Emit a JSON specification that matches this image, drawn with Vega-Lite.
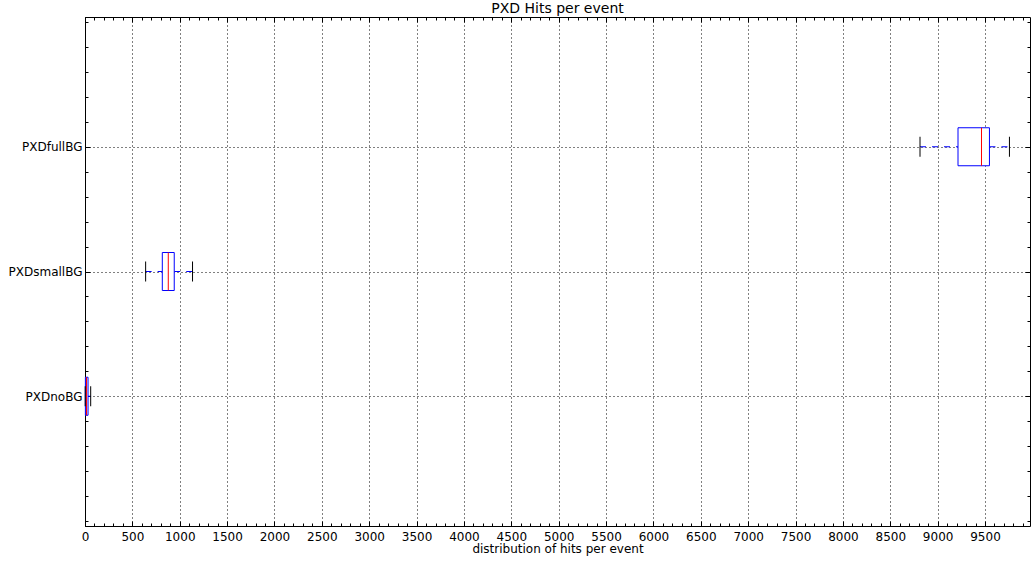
{
  "$schema": "https://vega.github.io/schema/vega-lite/v6.json",
  "width": 945,
  "height": 509,
  "autosize": {"type": "none"},
  "padding": {"left": 85, "top": 17, "right": 1, "bottom": 40},
  "background": "white",
  "title": {"text": "PXD Hits per event", "font": "DejaVu Sans", "fontSize": 14, "fontWeight": "normal", "color": "black", "offset": 1, "frame": "group", "anchor": "middle"},
  "data": {
    "values": [
      {"name": "PXDnoBG", "pos": 1, "low": 2, "q1": 4, "median": 16, "q3": 32, "high": 60},
      {"name": "PXDsmallBG", "pos": 2, "low": 640, "q1": 816, "median": 879, "q3": 942, "high": 1135},
      {"name": "PXDfullBG", "pos": 3, "low": 8814, "q1": 9215, "median": 9463, "q3": 9547, "high": 9758}
    ]
  },
  "resolve": {"axis": {"x": "independent", "y": "independent"}},
  "layer": [
    {
      "mark": {"type": "rule", "color": "#0000ff", "strokeWidth": 1, "strokeDash": [6, 6]},
      "encoding": {
        "x": {"field": "low", "type": "quantitative", "scale": {"domain": [0, 9975], "nice": false, "zero": false},
          "axis": {"orient": "bottom", "format": "d", "values": [0,500,1000,1500,2000,2500,3000,3500,4000,4500,5000,5500,6000,6500,7000,7500,8000,8500,9000,9500], "tickSize": -5, "labelPadding": 10, "grid": true, "title": "distribution of hits per event", "titlePadding": 1}},
        "x2": {"field": "q1"},
        "y": {"field": "pos", "type": "quantitative", "scale": {"domain": [0, 4], "nice": false, "zero": false},
          "axis": {"orient": "left", "values": [1, 2, 3], "labelExpr": "datum.value == 1 ? 'PXDnoBG' : datum.value == 2 ? 'PXDsmallBG' : 'PXDfullBG'", "tickSize": -5, "labelPadding": 8, "grid": true, "title": null}}
      }
    },
    {
      "mark": {"type": "rule", "color": "#0000ff", "strokeWidth": 1, "strokeDash": [6, 6]},
      "encoding": {
        "x": {"field": "q3", "type": "quantitative", "axis": {"orient": "bottom", "tickCount": 100, "labels": false, "tickSize": -3, "title": null}},
        "x2": {"field": "high"},
        "y": {"field": "pos", "type": "quantitative", "axis": {"orient": "left", "tickCount": 20, "labels": false, "tickSize": -3, "title": null}}
      }
    },
    {
      "mark": {"type": "bar", "orient": "horizontal", "fill": "white", "stroke": "#0000ff", "strokeWidth": 1, "size": 38},
      "encoding": {
        "x": {"field": "q1", "type": "quantitative", "axis": {"orient": "top", "values": [0,500,1000,1500,2000,2500,3000,3500,4000,4500,5000,5500,6000,6500,7000,7500,8000,8500,9000,9500], "labels": false, "tickSize": -5, "title": null}},
        "x2": {"field": "q3"},
        "y": {"field": "pos", "type": "quantitative", "axis": {"orient": "right", "values": [1, 2, 3], "labels": false, "tickSize": -5, "title": null}}
      }
    },
    {
      "mark": {"type": "tick", "orient": "vertical", "color": "#ff0000", "thickness": 1, "size": 38, "opacity": 1},
      "encoding": {
        "x": {"field": "median", "type": "quantitative", "axis": {"orient": "top", "tickCount": 100, "labels": false, "tickSize": -3, "title": null}},
        "y": {"field": "pos", "type": "quantitative", "axis": {"orient": "right", "tickCount": 20, "labels": false, "tickSize": -3, "title": null}}
      }
    },
    {
      "mark": {"type": "tick", "orient": "vertical", "color": "black", "thickness": 1, "size": 20, "opacity": 1},
      "encoding": {
        "x": {"field": "low", "type": "quantitative", "axis": null},
        "y": {"field": "pos", "type": "quantitative", "axis": null}
      }
    },
    {
      "mark": {"type": "tick", "orient": "vertical", "color": "black", "thickness": 1, "size": 20, "opacity": 1},
      "encoding": {
        "x": {"field": "high", "type": "quantitative", "axis": null},
        "y": {"field": "pos", "type": "quantitative", "axis": null}
      }
    }
  ],
  "config": {
    "view": {"stroke": "black", "strokeWidth": 1},
    "axis": {
      "domain": false, "grid": false, "tickColor": "black", "tickWidth": 1,
      "labelColor": "black", "labelFont": "DejaVu Sans", "labelFontSize": 12,
      "titleFont": "DejaVu Sans", "titleFontSize": 12, "titleFontWeight": "normal", "titleColor": "black",
      "gridColor": "black", "gridDash": [1, 3], "gridOpacity": 1, "gridWidth": 1,
      "labelFlush": false, "labelOverlap": false
    }
  }
}
